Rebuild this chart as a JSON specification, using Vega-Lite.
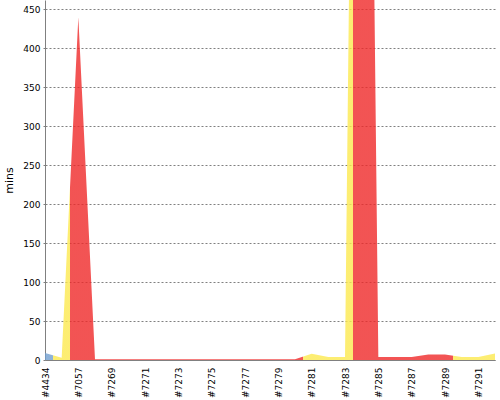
{
  "$schema": "https://vega.github.io/schema/vega-lite/v6.json",
  "width": 450,
  "height": 360,
  "autosize": "none",
  "padding": {"left": 45, "top": 0, "right": 5, "bottom": 40},
  "background": "white",
  "config": {"view": {"stroke": null}, "font": "DejaVu Sans"},
  "data": {
    "values": [
      {"build": "#4434", "mins": 9, "result": "success"},
      {"build": "#7056", "mins": 3, "result": "unstable"},
      {"build": "#7057", "mins": 440, "result": "failure"},
      {"build": "#7268", "mins": 1, "result": "failure"},
      {"build": "#7269", "mins": 1, "result": "failure"},
      {"build": "#7270", "mins": 1, "result": "failure"},
      {"build": "#7271", "mins": 1, "result": "failure"},
      {"build": "#7272", "mins": 1, "result": "failure"},
      {"build": "#7273", "mins": 1, "result": "failure"},
      {"build": "#7274", "mins": 1, "result": "failure"},
      {"build": "#7275", "mins": 1, "result": "failure"},
      {"build": "#7276", "mins": 1, "result": "failure"},
      {"build": "#7277", "mins": 1, "result": "failure"},
      {"build": "#7278", "mins": 1, "result": "failure"},
      {"build": "#7279", "mins": 1, "result": "failure"},
      {"build": "#7280", "mins": 1, "result": "failure"},
      {"build": "#7281", "mins": 8, "result": "unstable"},
      {"build": "#7282", "mins": 4, "result": "unstable"},
      {"build": "#7283", "mins": 4, "result": "unstable"},
      {"build": "#7284", "mins": 1950, "result": "failure"},
      {"build": "#7285", "mins": 4, "result": "failure"},
      {"build": "#7286", "mins": 4, "result": "failure"},
      {"build": "#7287", "mins": 4, "result": "failure"},
      {"build": "#7288", "mins": 7, "result": "failure"},
      {"build": "#7289", "mins": 7, "result": "failure"},
      {"build": "#7290", "mins": 4, "result": "unstable"},
      {"build": "#7291", "mins": 4, "result": "unstable"},
      {"build": "#7292", "mins": 8.5, "result": "unstable"}
    ]
  },
  "mark": {
    "type": "area",
    "clip": true,
    "interpolate": "linear",
    "opacity": 0.8,
    "fill": {
      "gradient": "linear",
      "x1": 0, "x2": 1, "y1": 0, "y2": 0,
      "stops": [
        {"offset": 0, "color": "#729FCF"},
        {"offset": 0.018519, "color": "#729FCF"},
        {"offset": 0.018519, "color": "#FCE94F"},
        {"offset": 0.055556, "color": "#FCE94F"},
        {"offset": 0.055556, "color": "#EF2929"},
        {"offset": 0.574074, "color": "#EF2929"},
        {"offset": 0.574074, "color": "#FCE94F"},
        {"offset": 0.685185, "color": "#FCE94F"},
        {"offset": 0.685185, "color": "#EF2929"},
        {"offset": 0.907407, "color": "#EF2929"},
        {"offset": 0.907407, "color": "#FCE94F"},
        {"offset": 1, "color": "#FCE94F"}
      ]
    }
  },
  "encoding": {
    "x": {
      "field": "build",
      "type": "ordinal",
      "sort": null,
      "scale": {"type": "point", "padding": 0},
      "axis": {
        "title": null,
        "labelExpr": "indexof(['#4434', '#7057', '#7269', '#7271', '#7273', '#7275', '#7277', '#7279', '#7281', '#7283', '#7285', '#7287', '#7289', '#7291'], datum.value) >= 0 ? datum.label : ''",
        "labelAngle": 270,
        "labelAlign": "right",
        "labelBaseline": "middle",
        "labelOverlap": false,
        "labelFlush": false,
        "labelBound": false,
        "labelFontSize": 9,
        "labelColor": "#000000",
        "labelPadding": 7,
        "ticks": false,
        "grid": false,
        "domainColor": "#808080",
        "labelFont": "DejaVu Sans"
      }
    },
    "y": {
      "field": "mins",
      "type": "quantitative",
      "scale": {"domain": [0, 462], "nice": false},
      "axis": {
        "title": "mins",
        "titleFont": "DejaVu Sans",
        "titleFontSize": 11,
        "titleFontWeight": "normal",
        "titleColor": "#000000",
        "titlePadding": 8,
        "values": [0, 50, 100, 150, 200, 250, 300, 350, 400, 450],
        "labelFontSize": 9,
        "labelColor": "#000000",
        "labelFont": "DejaVu Sans",
        "tickSize": 2,
        "tickColor": "#808080",
        "labelPadding": 3,
        "domainColor": "#808080",
        "grid": true,
        "gridColor": "#808080",
        "gridDash": [2, 2],
        "gridOpacity": 1
      }
    }
  }
}
